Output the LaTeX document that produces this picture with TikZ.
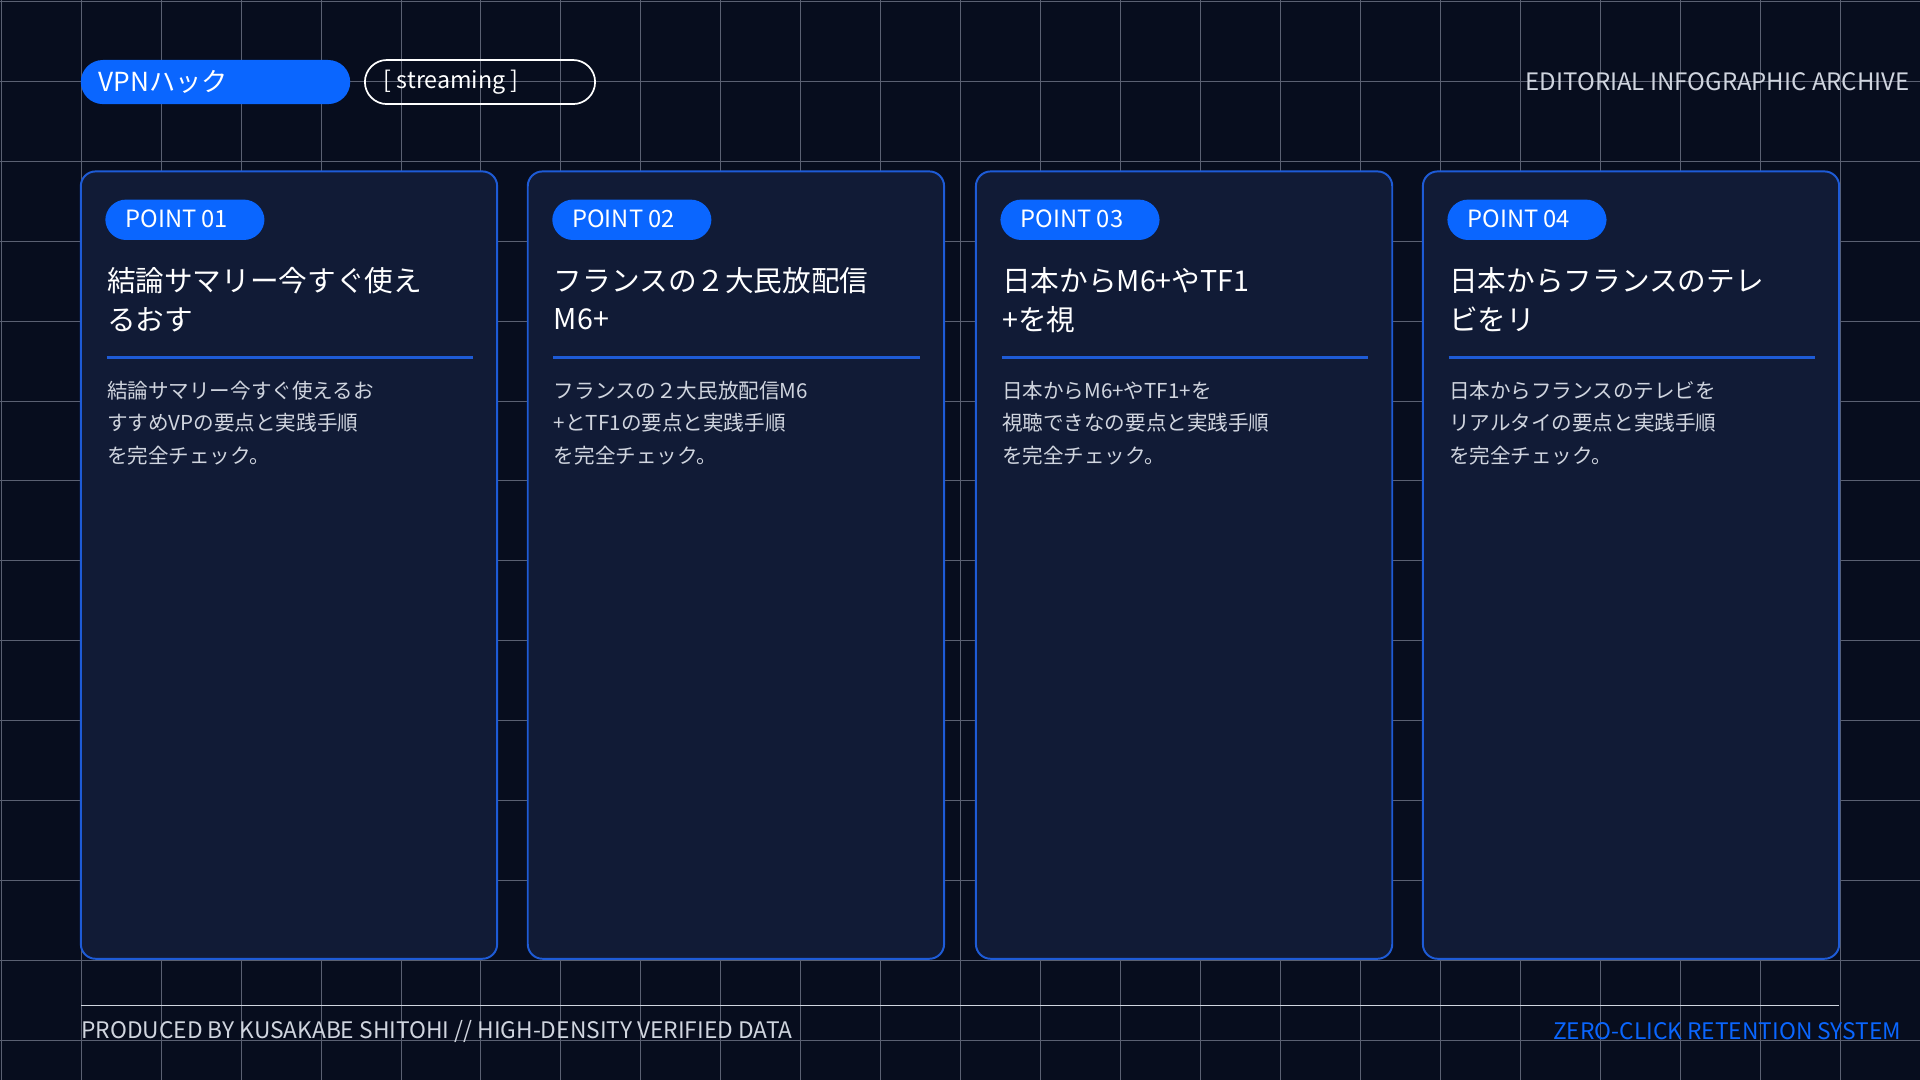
\documentclass[tikz,border=0pt]{standalone}
\usepackage{fontspec}
\setmainfont{Noto Sans CJK JP}
\begin{document}
\begin{tikzpicture}[x=0.5pt,y=-0.5pt,
  card/.style={draw=cardline,fill=cardfill,line width=0.8pt,rounded corners=6pt},
  pill/.style={fill=pblue,rounded corners=8.5pt},
  ttl/.style={anchor=west,text=white,font=\fontsize{11.7}{15}\selectfont,inner sep=0},
  body/.style={anchor=west,text=bodyc,font=\fontsize{8.4}{11}\selectfont,inner sep=0},
  pt/.style={text=white,font=\fontsize{9.7}{11}\selectfont,inner sep=0}]
\definecolor{bg}{HTML}{070D1E}
\definecolor{cardfill}{HTML}{111B36}
\definecolor{cardline}{HTML}{1E5BD6}
\definecolor{pblue}{HTML}{0A66FF}
\definecolor{bodyc}{HTML}{D0D5DF}
\definecolor{gridc}{HTML}{5A6072}
\useasboundingbox (0,0) rectangle (1568,882);
\fill[bg] (0,0) rectangle (1568,882);
\foreach \i in {0,...,24} {\draw[gridc,line width=0.4pt] ({1+65.3*\i},0) -- ({1+65.3*\i},882);}
\foreach \j in {0,...,13} {\draw[gridc,line width=0.4pt] (0,{1+65.3*\j}) -- (1568,{1+65.3*\j});}
\fill[pblue,rounded corners=9pt] (66,49) rectangle (286,85);
\node[anchor=west,text=white,font=\fontsize{10.7}{12}\selectfont,inner sep=0] (vpn) at (80,67) {VPNハック};
\draw[white,line width=0.7pt,rounded corners=9pt] (298,49) rectangle (486,85);
\node[anchor=west,text=white,font=\fontsize{9.5}{11}\selectfont,inner sep=0] (str) at (313,67) {[ streaming ]};
\node[anchor=east,text=bodyc,font=\fontsize{9.8}{11}\selectfont,inner sep=0] (ed) at (1560,67) {EDITORIAL INFOGRAPHIC ARCHIVE};
\foreach \x/\n/\ta/\tb/\ba/\bb/\bc in {
 66/01/結論サマリー今すぐ使え/るおす/結論サマリー今すぐ使えるお/すすめVPの要点と実践手順/を完全チェック。,
 431/02/フランスの２大民放配信/M6+/フランスの２大民放配信M6/+とTF1の要点と実践手順/を完全チェック。,
 797/03/日本からM6+やTF1/+を視/日本からM6+やTF1+を/視聴できなの要点と実践手順/を完全チェック。,
 1162/04/日本からフランスのテレ/ビをリ/日本からフランスのテレビを/リアルタイの要点と実践手順/を完全チェック。} {
  \draw[card] (\x,140) rectangle ++(340,643);
  \fill[pill] (\x+20,163) rectangle ++(130,33);
  \node[pt,anchor=west] (p\n) at (\x+36,179) {POINT \n};
  \node[ttl] (ta\n) at (\x+21,229) {\ta};
  \node[ttl] (tb\n) at (\x+21,261) {\tb};
  \draw[cardline,line width=0.9pt] (\x+21,292) -- (\x+320,292);
  \node[body] (ba\n) at (\x+21,319) {\ba};
  \node[body] (bb\n) at (\x+21,345) {\bb};
  \node[body] (bc\n) at (\x+21,372) {\bc};
}
\draw[bodyc,line width=0.5pt] (66,821) -- (1502,821);
\node[anchor=west,text=bodyc,font=\fontsize{9.3}{10}\selectfont,inner sep=0] (f1) at (66,842) {PRODUCED BY KUSAKABE SHITOHI // HIGH-DENSITY VERIFIED DATA};
\node[anchor=east,text=pblue,font=\fontsize{9.3}{10}\selectfont,inner sep=0] (f2) at (1553,842) {ZERO-CLICK RETENTION SYSTEM};
\end{tikzpicture}
\end{document}
